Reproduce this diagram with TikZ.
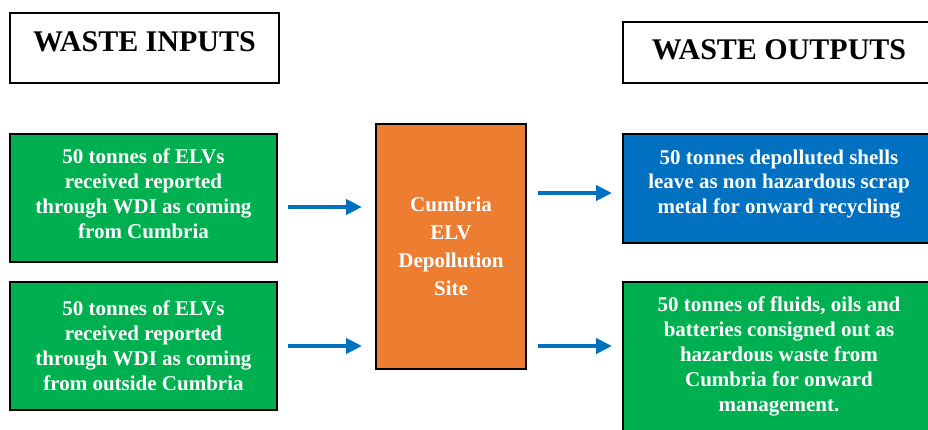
\documentclass[tikz,border=0pt]{standalone}
\usepackage{fontspec}
\setmainfont{Liberation Serif}
\usetikzlibrary{positioning, arrows.meta}
\definecolor{elvgreen}{RGB}{0, 176, 80}
\definecolor{elvorange}{RGB}{237, 125, 49}
\definecolor{elvblue}{RGB}{0, 112, 192}

\begin{document}
\begin{tikzpicture}[
    x=1pt, y=-1pt,
    titlebox/.style={
        draw,
        line width=1.5pt,
        fill=white,
        font=\fontsize{30}{34}\selectfont\bfseries,
        inner sep=0pt,
        outer sep=0pt
    },
    wastebox/.style={
        draw,
        line width=1.5pt,
        fill=#1,
        text=white,
        font=\fontsize{21}{25}\selectfont\bfseries,
        align=center,
        inner sep=0pt,
        outer sep=0pt
    },
    wastebox/.default=elvgreen,
    flow/.style={
        draw=elvblue,
        line width=4pt,
        -{Triangle[length=16pt, width=15pt]}
    }
]
\useasboundingbox (0,0) rectangle (928,430);

% === Waste inputs ===
\node[titlebox, minimum width=269pt, minimum height=70pt, text depth=12pt] (intitle) at (144.5,48) {WASTE INPUTS};
\node[wastebox, minimum width=267pt, minimum height=128pt, text depth=8pt] (in1) at (143.5,198) {
50 tonnes of ELVs\\
received reported\\
through WDI as coming\\
from Cumbria
};
\node[wastebox, minimum width=267pt, minimum height=128pt, below=20pt of in1] (in2) {
50 tonnes of ELVs\\
received reported\\
through WDI as coming\\
from outside Cumbria
};

% === Site ===
\node[wastebox=elvorange, minimum width=150pt, minimum height=245pt,
      font=\fontsize{21}{28}\selectfont\bfseries] (site) at (451,246.5) {
Cumbria\\
ELV\\
Depollution\\
Site
};

% === Waste outputs ===
\node[titlebox, minimum width=312pt, minimum height=61pt, text depth=5pt] (outtitle) at (779,52.5) {WASTE OUTPUTS};
\node[wastebox=elvblue, minimum width=312pt, minimum height=109pt, text depth=14pt,
      font=\fontsize{21}{24.5}\selectfont\bfseries] (out1) at (779,188.5) {
50 tonnes depolluted shells\\
leave as non hazardous scrap\\
metal for onward recycling
};
\node[wastebox, minimum width=312pt, minimum height=154pt, text depth=10pt] (out2) at (779,359) {
50 tonnes of fluids, oils and\\
batteries consigned out as\\
hazardous waste from\\
Cumbria for onward\\
management.
};

% === Arrows ===
\draw[flow, shorten <=11pt, shorten >=14pt] ([yshift=-9pt]in1.east) -- ([yshift=-9pt]in1.east -| site.west);
\draw[flow, shorten <=11pt, shorten >=14pt] (in2.east) -- (in2.east -| site.west);
\draw[flow, shorten <=12pt, shorten >=11pt] ([yshift=-4.5pt]site.east |- out1.west) -- ([yshift=-4.5pt]out1.west);
\draw[flow, shorten <=12pt, shorten >=11pt] (site.east |- in2.east) -- (out2.west |- in2.east);

\end{tikzpicture}
\end{document}
